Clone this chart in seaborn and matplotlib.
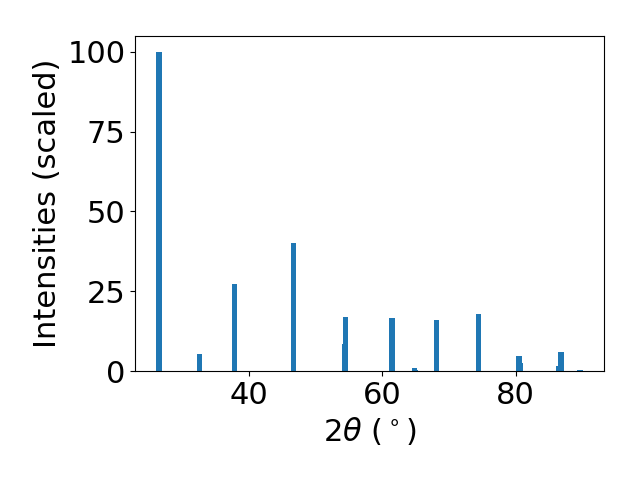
import matplotlib
matplotlib.use("Agg")
import matplotlib.pyplot as plt
import seaborn as sns
import pandas as pd

# Peak positions (2theta, degrees) and scaled intensities
two_theta = [26.53, 32.59, 37.85, 46.72, 54.32, 54.47, 61.46, 64.84, 65.00,
             68.15, 74.46, 80.48, 80.74, 86.50, 86.80, 89.65]
intensity = [100.0, 5.3, 27.3, 40.1, 8.5, 16.9, 16.6, 0.94, 0.4,
             16.0, 17.9, 4.7, 2.5, 1.6, 6.0, 0.3]
y_ticks = [0, 25, 50, 75, 100]

df = pd.DataFrame({"two_theta": two_theta, "intensity": intensity})

fig, ax = plt.subplots(figsize=(6.4, 4.8), dpi=100)

# draw each peak as its own bar on the native numeric scale
for _, row in df.iterrows():
    sns.barplot(x=[row["two_theta"]], y=[row["intensity"]], native_scale=True,
                width=0.8, color="#1f77b4", saturation=1, errorbar=None, ax=ax)

ax.set_yticks(y_ticks)
ax.set_xlabel(r"2$\theta$ ($^\circ$)", fontsize=22)
ax.set_ylabel("Intensities (scaled)", fontsize=22)
ax.tick_params(axis="both", labelsize=22)

fig.subplots_adjust(left=0.211, right=0.944, top=0.925, bottom=0.227)
fig.savefig("out.png", dpi=100)
